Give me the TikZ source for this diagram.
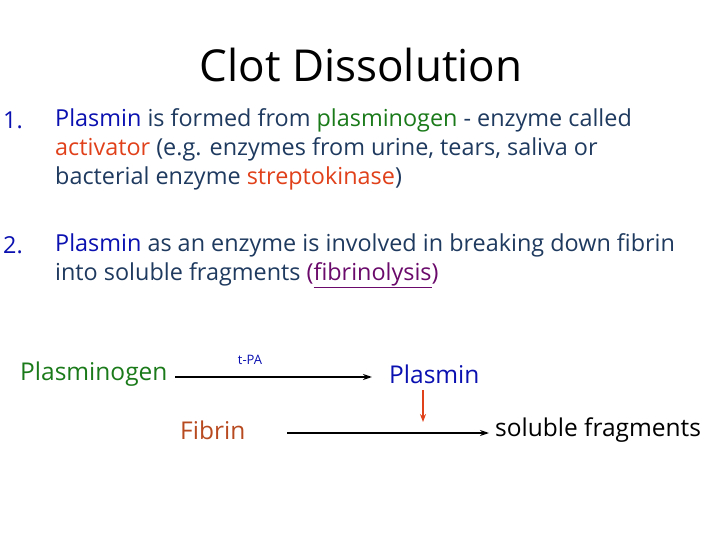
\documentclass[tikz,border=0pt]{standalone}
\usepackage{fontspec}
\setmainfont{Open Sans}
\usetikzlibrary{arrows.meta}
\definecolor{body}{HTML}{1F3A5F}
\definecolor{pblue}{HTML}{0A10B0}
\definecolor{pgreen}{HTML}{1A7A1A}
\definecolor{pred}{HTML}{E0401A}
\definecolor{pbrown}{HTML}{B84A20}
\definecolor{ppurple}{HTML}{6A0A6A}
\tikzset{txt/.style={anchor=west,inner sep=0,text=body,font=\fontsize{23.4}{28}\selectfont},
 dia/.style={inner sep=0,font=\fontsize{24.5}{29}\selectfont},
 arr/.style={-{Stealth[length=9pt,width=6pt]},line width=2.6pt}}
\begin{document}
\begin{tikzpicture}[x=1pt,y=-1pt]
\useasboundingbox (0,0) rectangle (720,540);
\node[inner sep=0,font=\fontsize{44}{50}\selectfont] (title) at (361,65) {Clot Dissolution};
\node[txt,text=pblue] (n1) at (3,120) {1.};
\node[txt] (l1) at (55,120) {\textcolor{pblue}{Plasmin} is formed from \textcolor{pgreen}{plasminogen} - enzyme called};
\node[txt] (l2) at (55,149) {\textcolor{pred}{activator} (e.g. enzymes from urine, tears, saliva or};
\node[txt] (l3) at (55,178) {bacterial enzyme \textcolor{pred}{streptokinase})};
\node[txt,text=pblue] (n2) at (3,245) {2.};
\node[txt] (l4) at (55,245) {\textcolor{pblue}{Plasmin} as an enzyme is involved in breaking down fibrin};
\node[txt] (l5) at (55,275) {into soluble fragments \textcolor{ppurple}{(\underline{fibrinolysis})}};
\node[dia,anchor=west,text=pgreen] (pg) at (20,374) {Plasminogen};
\node[dia,anchor=west,text=pblue] (pl) at (389,374) {Plasmin};
\node[inner sep=0,text=pblue,font=\fontsize{13}{15}\selectfont] (tpa) at (250,360) {t-PA};
\node[dia,anchor=west,text=pbrown] (fb) at (180,430) {Fibrin};
\node[dia,anchor=west] (sf) at (495,430) {soluble fragments};
\coordinate (a1) at (175,377); \coordinate (a2) at (372,377);
\draw[arr] (a1) -- (a2);
\coordinate (b1) at (287,433); \coordinate (b2) at (489,433);
\draw[arr] (b1) -- (b2);
\coordinate (c1) at (423,390); \coordinate (c2) at (423,422);
\draw[-{Stealth[length=8pt,width=6pt]},line width=1.2pt,pred] (c1) -- (c2);
\end{tikzpicture}
\end{document}
